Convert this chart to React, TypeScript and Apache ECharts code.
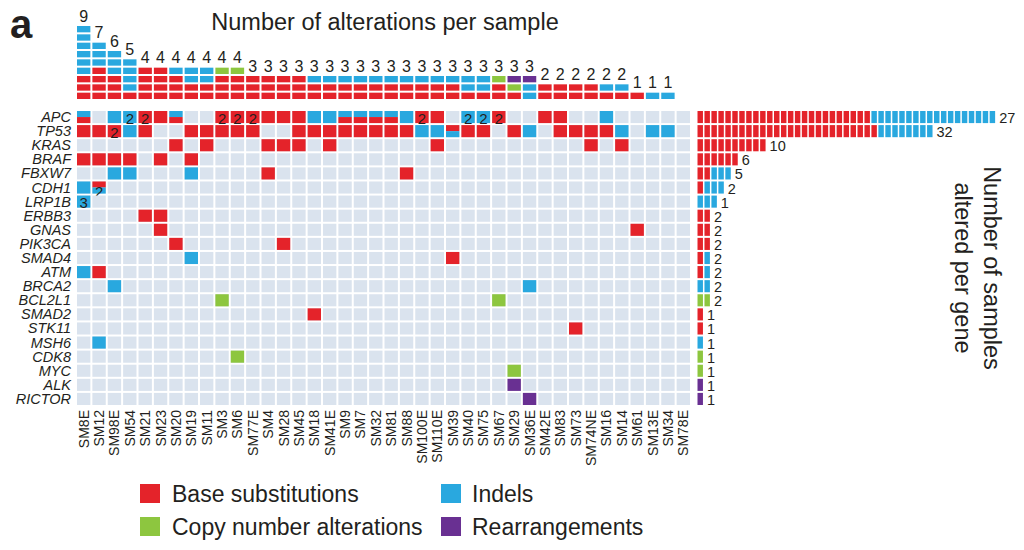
import React, { useEffect, useRef } from "react";
import * as echarts from "echarts";

// ---- categories ----
const samples = ["SM8E","SM12","SM98E","SM54","SM21","SM23","SM20","SM19","SM11","SM3","SM6","SM77E","SM4","SM28","SM45","SM18","SM41E","SM9","SM7","SM32","SM81","SM88","SM100E","SM110E","SM39","SM40","SM75","SM67","SM29","SM36E","SM42E","SM83","SM73","SM74NE","SM16","SM14","SM61","SM13E","SM34","SM78E"];
const genes = ["APC","TP53","KRAS","BRAF","FBXW7","CDH1","LRP1B","ERBB3","GNAS","PIK3CA","SMAD4","ATM","BRCA2","BCL2L1","SMAD2","STK11","MSH6","CDK8","MYC","ALK","RICTOR"];

// ---- alteration cells per gene: [sampleIndex, code]  code: r=base subst, b=indel, g=CNA, p=rearr; "top/bottom" = split; digit = count label
const APC: [number, string][] = [[0,"b/r"],[2,"b"],[3,"b2"],[4,"r2"],[5,"r"],[6,"b/r"],[9,"r2"],[10,"r2"],[11,"r2"],[12,"r"],[13,"r"],[14,"r"],[15,"b"],[16,"b"],[17,"b/r"],[18,"b/r"],[19,"b/r"],[20,"b/r"],[21,"b"],[22,"r2"],[23,"r"],[25,"b2"],[26,"b2"],[27,"r2"],[30,"r"],[31,"r"],[34,"b"]];
const TP53: [number, string][] = [[0,"r"],[1,"r"],[2,"r2"],[3,"b"],[4,"r"],[7,"r"],[8,"r"],[9,"r"],[10,"r"],[11,"r"],[14,"r"],[15,"r"],[16,"r"],[17,"r"],[18,"r"],[19,"r"],[20,"r"],[21,"r"],[22,"b"],[23,"b"],[24,"r/b"],[25,"r"],[26,"r"],[28,"r"],[29,"b"],[31,"r"],[32,"r"],[33,"r"],[34,"r"],[35,"b"],[37,"b"],[38,"b"]];
const KRAS: [number, string][] = [[6,"r"],[8,"r"],[12,"r"],[13,"r"],[14,"r"],[16,"r"],[23,"r"],[33,"r"],[35,"r"]];
const BRAF: [number, string][] = [[0,"r"],[1,"r"],[2,"r"],[3,"r"],[5,"r"],[7,"r"]];
const FBXW7: [number, string][] = [[2,"b"],[3,"b"],[7,"b"],[12,"r"],[21,"r"]];
const CDH1: [number, string][] = [[0,"b"],[1,"r/b2"]];
const LRP1B: [number, string][] = [[0,"b3"]];
const ERBB3: [number, string][] = [[4,"r"],[5,"r"]];
const GNAS: [number, string][] = [[5,"r"],[36,"r"]];
const PIK3CA: [number, string][] = [[6,"r"],[13,"r"]];
const SMAD4: [number, string][] = [[7,"b"],[24,"r"]];
const ATM: [number, string][] = [[0,"b"],[1,"r"]];
const BRCA2: [number, string][] = [[2,"b"],[29,"b"]];
const BCL2L1: [number, string][] = [[9,"g"],[27,"g"]];
const SMAD2: [number, string][] = [[15,"r"]];
const STK11: [number, string][] = [[32,"r"]];
const MSH6: [number, string][] = [[1,"b"]];
const CDK8: [number, string][] = [[10,"g"]];
const MYC: [number, string][] = [[28,"g"]];
const ALK: [number, string][] = [[28,"p"]];
const RICTOR: [number, string][] = [[29,"p"]];
const geneCells = [APC,TP53,KRAS,BRAF,FBXW7,CDH1,LRP1B,ERBB3,GNAS,PIK3CA,SMAD4,ATM,BRCA2,BCL2L1,SMAD2,STK11,MSH6,CDK8,MYC,ALK,RICTOR];

// ---- number of alterations per sample (stacked from bottom) ----
const topRed    = [3,4,3,1,4,4,3,2,2,3, 3,3,3,3,3,2,2,2,2,2, 2,2,2,2,2,1,1,2,1,0, 2,2,2,2,1,1,1,0,0,0];
const topBlue   = [6,3,3,4,0,0,1,2,2,0, 0,0,0,0,0,1,1,1,1,1, 1,1,1,1,1,2,2,0,0,2, 0,0,0,0,1,1,0,1,1,0];
const topGreen  = [0,0,0,0,0,0,0,0,0,1, 1,0,0,0,0,0,0,0,0,0, 0,0,0,0,0,0,0,1,1,0, 0,0,0,0,0,0,0,0,0,0];
const topPurple = [0,0,0,0,0,0,0,0,0,0, 0,0,0,0,0,0,0,0,0,0, 0,0,0,0,0,0,0,0,1,1, 0,0,0,0,0,0,0,0,0,0];

// ---- alterations per gene (segments) and number of samples altered ----
const rightRed    = [25,26,10,6,2,1,0,2,2,2,1,1,0,0,1,1,0,0,0,0,0];
const rightBlue   = [18,8,0,0,3,3,3,0,0,0,1,1,2,0,0,0,1,0,0,0,0];
const rightGreen  = [0,0,0,0,0,0,0,0,0,0,0,0,0,2,0,0,0,1,1,0,0];
const rightPurple = [0,0,0,0,0,0,0,0,0,0,0,0,0,0,0,0,0,0,0,1,1];
const rightLabels = [27,32,10,6,5,2,1,2,2,2,2,2,2,2,1,1,1,1,1,1,1];

const COLORS: Record<string, string> = { r: "#e4232a", b: "#29a8df", g: "#8dc63f", p: "#693092" };
const EMPTY = "#dae3ee";
const FONT = "'Liberation Sans', Arial, Helvetica, sans-serif";
const TXT = "#231f20";

export default function App() {
  const ref = useRef<HTMLDivElement>(null);
  useEffect(() => {
    const chart = echarts.init(ref.current as HTMLDivElement, null, { renderer: "svg" });
    const cellMap: Record<string, string> = {};
    geneCells.forEach((list, g) => list.forEach(([s, code]) => { cellMap[g + "_" + s] = code; }));
    const heatData: number[][] = [];
    for (let g = 0; g < genes.length; g++) for (let s = 0; s < samples.length; s++) heatData.push([s, g]);
    const topData = samples.map((_, i) => [i, topRed[i] + topBlue[i] + topGreen[i] + topPurple[i]]);
    const rightData = genes.map((_, j) => [rightRed[j] + rightBlue[j] + rightGreen[j] + rightPurple[j], j]);
    const typeColors = [COLORS.r, COLORS.b, COLORS.g, COLORS.p];

    const option: any = {
      animation: false,
      backgroundColor: "#ffffff",
      grid: [
        { left: 76, top: 25, width: 615, height: 75 },
        { left: 76, top: 110, width: 615, height: 296 },
        { left: 697, top: 110, width: 320, height: 296 },
      ],
      xAxis: [
        { type: "category", data: samples, gridIndex: 0, show: false },
        {
          type: "category", data: samples, gridIndex: 1,
          axisLine: { show: false }, axisTick: { show: false }, splitLine: { show: false },
          axisLabel: { rotate: 90, interval: 0, fontSize: 14, color: TXT, fontFamily: FONT, margin: 4 },
        },
        { type: "value", gridIndex: 2, min: 0, max: 46, show: false },
      ],
      yAxis: [
        { type: "value", gridIndex: 0, min: 0, max: 9, show: false },
        {
          type: "category", data: genes, gridIndex: 1, inverse: true,
          axisLine: { show: false }, axisTick: { show: false }, splitLine: { show: false },
          axisLabel: { interval: 0, fontStyle: "italic", fontSize: 14.5, color: TXT, fontFamily: FONT, margin: 5 },
        },
        { type: "category", data: genes, gridIndex: 2, inverse: true, show: false },
      ],
      series: [
        {
          type: "custom", xAxisIndex: 0, yAxisIndex: 0, data: topData, silent: true,
          renderItem: (params: any, api: any) => {
            const i = api.value(0);
            const counts = [topRed[i], topBlue[i], topGreen[i], topPurple[i]];
            const bw = api.size([1, 0])[0];
            const children: any[] = [];
            let k = 0;
            counts.forEach((n, t) => {
              for (let q = 0; q < n; q++) {
                const top = api.coord([i, k + 1]);
                const bot = api.coord([i, k]);
                children.push({
                  type: "rect",
                  shape: { x: top[0] - bw / 2 + 1, y: top[1] + 1, width: bw - 2, height: bot[1] - top[1] - 2 },
                  style: { fill: typeColors[t] },
                });
                k++;
              }
            });
            if (k > 0) {
              const p = api.coord([i, k]);
              children.push({
                type: "text",
                style: { text: String(k), x: p[0], y: p[1] - 1, align: "center", verticalAlign: "bottom", fontSize: 16, fontFamily: FONT, fill: TXT },
              });
            }
            return { type: "group", children };
          },
        },
        {
          type: "custom", xAxisIndex: 1, yAxisIndex: 1, data: heatData, silent: true,
          renderItem: (params: any, api: any) => {
            const s = api.value(0), g = api.value(1);
            const c = api.coord([s, g]);
            const sz = api.size([1, 1]);
            const x0 = c[0] - sz[0] / 2 + 1, y0 = c[1] - sz[1] / 2 + 1, w = sz[0] - 2, h = sz[1] - 2;
            const children: any[] = [{ type: "rect", shape: { x: x0, y: y0, width: w, height: h }, style: { fill: EMPTY } }];
            const code = cellMap[g + "_" + s];
            if (code) {
              const parts = code.split("/");
              const ph = h / parts.length;
              parts.forEach((p, idx) => {
                children.push({ type: "rect", shape: { x: x0, y: y0 + idx * ph, width: w, height: ph }, style: { fill: COLORS[p[0]] } });
              });
              parts.forEach((p, idx) => {
                const n = p.slice(1);
                if (n) {
                  children.push({
                    type: "text",
                    style: { text: n, x: x0 + w / 2, y: y0 + idx * ph + ph / 2 + 1, align: "center", verticalAlign: "middle", fontSize: 15, fontFamily: FONT, fill: TXT },
                  });
                }
              });
            }
            return { type: "group", children };
          },
        },
        {
          type: "custom", xAxisIndex: 2, yAxisIndex: 2, data: rightData, silent: true,
          renderItem: (params: any, api: any) => {
            const j = api.value(1);
            const counts = [rightRed[j], rightBlue[j], rightGreen[j], rightPurple[j]];
            const uw = api.size([1, 0])[0];
            const bh = api.size([0, 1])[1];
            const children: any[] = [];
            let k = 0;
            counts.forEach((n, t) => {
              for (let q = 0; q < n; q++) {
                const p = api.coord([k, j]);
                children.push({
                  type: "rect",
                  shape: { x: p[0] + 0.5, y: p[1] - bh / 2 + 1, width: uw - 1.5, height: bh - 2 },
                  style: { fill: typeColors[t] },
                });
                k++;
              }
            });
            const e = api.coord([k, j]);
            children.push({
              type: "text",
              style: { text: String(rightLabels[j]), x: e[0] + 3, y: e[1] + 1, align: "left", verticalAlign: "middle", fontSize: 14.5, lineHeight: 13, fontFamily: FONT, fill: TXT },
            });
            return { type: "group", children };
          },
        },
      ],
      graphic: [
        { type: "text", x: 10, y: 24, style: { text: "a", fontSize: 40, fontWeight: "bold", fontFamily: FONT, fill: TXT, align: "left", verticalAlign: "middle" } },
        { type: "text", x: 385, y: 22, style: { text: "Number of alterations per sample", fontSize: 23.5, fontFamily: FONT, fill: TXT, align: "center", verticalAlign: "middle" } },
        { type: "text", x: 992, y: 268, rotation: -Math.PI / 2, style: { text: "Number of samples", fontSize: 23.5, fontFamily: FONT, fill: TXT, align: "center", verticalAlign: "middle" } },
        { type: "text", x: 963, y: 268, rotation: -Math.PI / 2, style: { text: "altered per gene", fontSize: 23.5, fontFamily: FONT, fill: TXT, align: "center", verticalAlign: "middle" } },
        { type: "rect", shape: { x: 140, y: 484, width: 20, height: 19 }, style: { fill: COLORS.r } },
        { type: "text", x: 172, y: 494, style: { text: "Base substitutions", fontSize: 23, fontFamily: FONT, fill: TXT, align: "left", verticalAlign: "middle" } },
        { type: "rect", shape: { x: 140, y: 517, width: 20, height: 19 }, style: { fill: COLORS.g } },
        { type: "text", x: 172, y: 527, style: { text: "Copy number alterations", fontSize: 23, fontFamily: FONT, fill: TXT, align: "left", verticalAlign: "middle" } },
        { type: "rect", shape: { x: 441, y: 484, width: 20, height: 19 }, style: { fill: COLORS.b } },
        { type: "text", x: 472, y: 494, style: { text: "Indels", fontSize: 23, fontFamily: FONT, fill: TXT, align: "left", verticalAlign: "middle" } },
        { type: "rect", shape: { x: 441, y: 517, width: 20, height: 19 }, style: { fill: COLORS.p } },
        { type: "text", x: 472, y: 527, style: { text: "Rearrangements", fontSize: 23, fontFamily: FONT, fill: TXT, align: "left", verticalAlign: "middle" } },
      ],
    };
    chart.setOption(option);
    return () => { chart.dispose(); };
  }, []);
  return <div ref={ref} style={{ position: "fixed", left: 0, top: 0, width: 1024, height: 550, background: "#fff" }} />;
}
